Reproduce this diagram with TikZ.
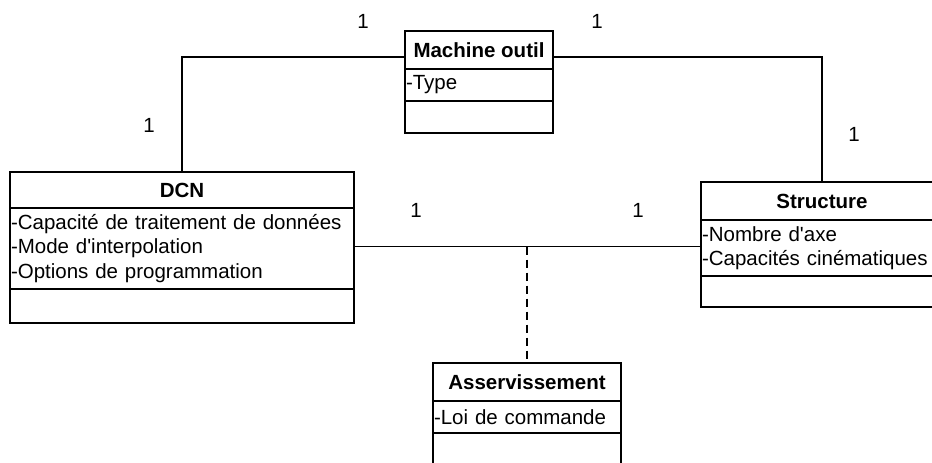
\documentclass[tikz,border=0pt]{standalone}
\usepackage{fontspec}
\setmainfont{Liberation Sans}
\usetikzlibrary{positioning}
\newcommand{\umlfont}{\fontsize{20.5}{24.5}\selectfont}

\begin{document}
\begin{tikzpicture}[
  x=1pt, y=-1pt,
  ctitle/.style={draw, line width=1.3pt, outer sep=0pt, inner sep=1pt, minimum height=38pt, align=center, font=\umlfont\bfseries},
  cattr/.style={draw, line width=1.3pt, outer sep=0pt, inner sep=1pt, align=left, font=\umlfont},
  mult/.style={font=\umlfont, inner sep=0pt},
  assoc/.style={line width=1.2pt},
  dep/.style={line width=1.6pt, dash pattern=on 8pt off 5pt}
]
\useasboundingbox (0,0) rectangle (932,463);

% Machine outil
\node[ctitle, minimum width=148pt] (moT) at (479,50) {Machine outil};
\node[cattr, text width=146pt, minimum height=32pt, below=0pt of moT] (moA) {-Type};
\node[cattr, minimum width=148pt, minimum height=32pt, below=0pt of moA] (moO) {};

% DCN
\node[ctitle, minimum width=344pt, minimum height=36pt] (dcnT) at (182,190) {DCN};
\node[cattr, text width=342pt, minimum height=81pt, below=0pt of dcnT] (dcnA) {-Capacité de traitement de données\\-Mode d\textquotesingle interpolation\\-Options de programmation};
\node[cattr, minimum width=344pt, minimum height=34pt, below=0pt of dcnA] (dcnO) {};

% Structure
\node[ctitle, minimum width=242pt] (stT) at (822,201) {Structure};
\node[cattr, text width=240pt, minimum height=56pt, below=0pt of stT] (stA) {-Nombre d\textquotesingle axe\\-Capacités cinématiques};
\node[cattr, minimum width=242pt, minimum height=31pt, below=0pt of stA] (stO) {};

% Asservissement
\node[ctitle, minimum width=188pt] (asvT) at (527,382) {Asservissement};
\node[cattr, text width=186pt, minimum height=32pt, below=0pt of asvT] (asvA) {-Loi de commande};
\node[cattr, minimum width=188pt, minimum height=32pt, below=0pt of asvA] (asvO) {};

% associations
\draw[assoc] ([yshift=-7pt]moT.west) -| (dcnT.north);
\draw[assoc] ([yshift=-7pt]moT.east) -| (stT.north);
\draw[assoc] ([yshift=2pt]dcnA.east) -- ([yshift=2pt]dcnA.east -| stA.west);
\coordinate (dmid) at ([yshift=2pt]asvT.north |- dcnA.east);
\draw[dep] (dmid) -- (asvT.north);

% multiplicities
\node[mult] (m1) at (363,21) {1};
\node[mult] (m2) at (597,21) {1};
\node[mult] (m3) at (149,125) {1};
\node[mult] (m4) at (854,134) {1};
\node[mult] (m5) at (416,210) {1};
\node[mult] (m6) at (638,210) {1};
\end{tikzpicture}
\end{document}
